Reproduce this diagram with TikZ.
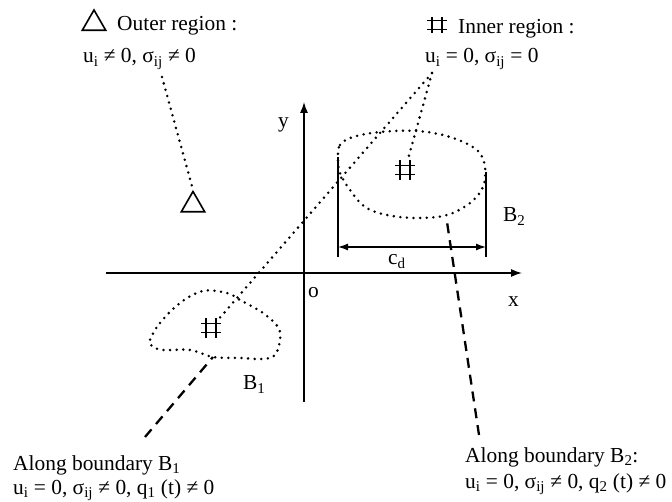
\documentclass[tikz,border=0pt]{standalone}
\usepackage{fontspec}
\setmainfont{Liberation Serif}
\usepackage{tikz}
\usetikzlibrary{arrows.meta, positioning, shapes.geometric}

\begin{document}
\begin{tikzpicture}[
  x=1pt, y=-1pt,
  every node/.style={font=\fontsize{21.4}{25}\selectfont, inner sep=0pt},
  lbl/.style={anchor=base west},
  tri/.style={draw, regular polygon, regular polygon sides=3, minimum size=27pt, line width=1.6pt},
  hashmk/.style={minimum width=20pt, minimum height=#1, path picture={
    \draw[line width=1.7pt]
      ([xshift=-5pt]path picture bounding box.north) -- ([xshift=-5pt]path picture bounding box.south)
      ([xshift=5pt]path picture bounding box.north) -- ([xshift=5pt]path picture bounding box.south)
      ([yshift=-4.5pt]path picture bounding box.west) -- ([yshift=-4.5pt]path picture bounding box.east)
      ([yshift=4.5pt]path picture bounding box.west) -- ([yshift=4.5pt]path picture bounding box.east);}},
  hashmk/.default=20pt,
  dotl/.style={line width=2.8pt, line cap=round, dash pattern=on 0pt off 6.6pt},
  dashl/.style={line width=2.3pt, dash pattern=on 10pt off 7pt},
  axis/.style={-{Latex[length=11pt, width=8pt]}, line width=1.3pt},
  dimln/.style={{Latex[length=10pt, width=7pt]}-{Latex[length=10pt, width=7pt]}, line width=1.3pt}
]
\useasboundingbox (0,0) rectangle (672,502);

% legends
\node[tri] (tri0) at (94,23.5) {};
\node[lbl] (outer) at (117,31) {Outer region :};
\node[lbl] (outcond) at (83,63) {u\textsubscript{i} ≠ 0, σ\textsubscript{ij} ≠ 0};
\node[hashmk=16pt] (hs0) at (437,25) {};
\node[lbl] (inner) at (458,34) {Inner region :};
\node[lbl] (incond) at (425,63) {u\textsubscript{i} = 0, σ\textsubscript{ij} = 0};

% axes
\coordinate (xl) at (106,273); \coordinate (xr) at (522,273);
\coordinate (yb) at (304,402); \coordinate (yt) at (304,102);
\draw[axis] (xl) -- (xr);
\draw[axis] (yb) -- (yt);
\node[lbl] (ylab) at (278,128) {y};
\node[lbl] (olab) at (308,298) {o};
\node[lbl] (xlab) at (508,307) {x};

% bodies
\draw[dotl] plot[smooth cycle, tension=0.6] coordinates {(338,158) (340,145) (353,137) (380,132) (417,131)
  (450,137) (477,150) (485,167) (483,187) (470,203) (447,215) (417,218) (387,215) (365,207) (350,190) (340,173)};
\draw[dotl] plot[smooth cycle, tension=0.6] coordinates {(150,340) (160,323) (180,303) (203,291) (227,293)
  (240,300) (263,313) (278,327) (280,340) (275,355) (263,359) (240,358) (213,357) (190,350) (163,350) (152,346)};
\node[tri] (tri1) at (193,205) {};
\node[hashmk] (hs2) at (405,170) {};
\node[hashmk] (hs1) at (211,328) {};
\node[lbl] (b2lab) at (503,222) {B\textsubscript{2}};
\node[lbl] (b1lab) at (243,390) {B\textsubscript{1}};

% width c_d
\coordinate (dl) at (338,257); \coordinate (dr) at (486,257);
\draw[line width=1.3pt] (dl) -- ++(0,-100);
\draw[line width=1.3pt] (dr) -- ++(0,-85);
\draw[dimln] ([yshift=10pt]dl) -- ([yshift=10pt]dr);
\node[lbl] (cd) at (388,265) {c\textsubscript{d}};

% boundary notes
\node[lbl] (al1) at (13,470) {Along boundary B\textsubscript{1}};
\node[lbl] (cond1) at (13,494) {u\textsubscript{i} = 0, σ\textsubscript{ij} ≠ 0, q\textsubscript{1} (t) ≠ 0};
\node[lbl] (al2) at (465,462) {Along boundary B\textsubscript{2}:};
\node[lbl] (cond2) at (465,488) {u\textsubscript{i} = 0, σ\textsubscript{ij} ≠ 0, q\textsubscript{2} (t) ≠ 0};

% leaders
\coordinate (outtip) at (162,77);
\coordinate (intip) at (432,73);
\coordinate (b1tip) at (145,437); \coordinate (b1end) at (213,357);
\coordinate (b2tip) at (479,435); \coordinate (b2end) at (447,222);
\draw[dotl] (outtip) -- (tri1.north);
\draw[dotl] (intip) -- (hs2);
\draw[dotl] (intip) -- (hs1);
\draw[dashl] (b1tip) -- (b1end);
\draw[dashl] (b2tip) -- (b2end);
\end{tikzpicture}
\end{document}
